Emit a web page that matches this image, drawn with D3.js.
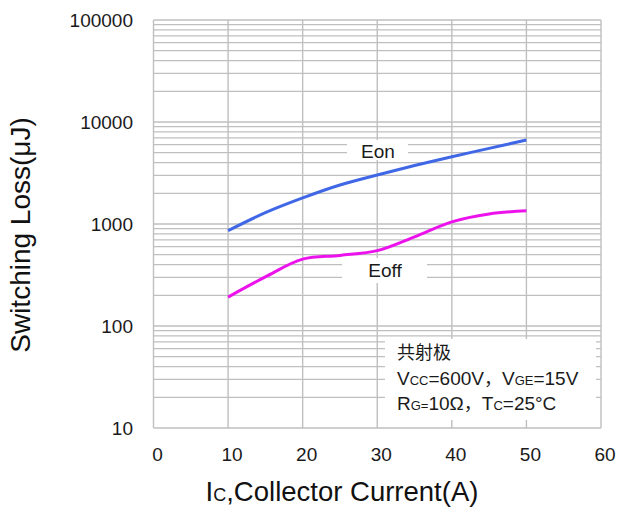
<!DOCTYPE html>
<html><head><meta charset="utf-8">
<script src="https://cdn.jsdelivr.net/npm/d3@7"></script>
<style>body{margin:0;background:#fff}</style>
</head><body>
<script>
const eonCurrent  = [10, 15, 20, 25, 30, 35, 40, 45, 50];
const eon         = [860, 1290, 1800, 2410, 3020, 3740, 4570, 5510, 6660];
const eoffCurrent = [10, 15, 20, 25, 30, 35, 40, 45, 50];
const eoff        = [192, 303, 452, 492, 548, 748, 1050, 1255, 1350];
const xTicks = [0, 10, 20, 30, 40, 50, 60];
const yTicks = [10, 100, 1000, 10000, 100000];

const W = 619, H = 508;
const svg = d3.select("body").append("svg").attr("width", W).attr("height", H);
const x = d3.scaleLinear().domain([0, 60]).range([153.5, 601]);
const y = d3.scaleLog().domain([10, 100000]).range([428, 20]);
const font = "'Liberation Sans', Arial, sans-serif";
const cjk = "'Noto Sans CJK SC', sans-serif";
const gridC = "#bfbfbf";
const txtC = "#1a1a1a";

// grid
const minor = [];
for (let d = 10; d < 100000; d *= 10) for (let k = 1; k <= 9; k++) minor.push(d * k);
minor.push(100000);
svg.append("g").selectAll("line").data(minor).join("line")
  .attr("x1", x(0)).attr("x2", x(60))
  .attr("y1", d => y(d)).attr("y2", d => y(d))
  .attr("stroke", gridC).attr("stroke-width", d => yTicks.includes(d) ? 1.6 : 1.2);
svg.append("g").selectAll("line").data(xTicks).join("line")
  .attr("x1", d => x(d)).attr("x2", d => x(d))
  .attr("y1", y(100000)).attr("y2", y(10))
  .attr("stroke", gridC).attr("stroke-width", 1.4);

// label boxes covering the grid
svg.append("rect").attr("x", 347).attr("y", 140).attr("width", 61).attr("height", 20).attr("fill", "#fff");
svg.append("rect").attr("x", 342).attr("y", 258).attr("width", 85).attr("height", 25).attr("fill", "#fff");
svg.append("rect").attr("x", 385).attr("y", 339).attr("width", 211).attr("height", 81).attr("fill", "#fff");

// curves
const mk = xs => d3.line().x((d, i) => x(xs[i])).y(d => y(d)).curve(d3.curveCatmullRom.alpha(0.5));
svg.append("path").attr("d", mk(eonCurrent)(eon)).attr("fill", "none").attr("stroke", "#3f67e6").attr("stroke-width", 3);
svg.append("path").attr("d", mk(eoffCurrent)(eoff)).attr("fill", "none").attr("stroke", "#ec12ec").attr("stroke-width", 3);

// tick labels
svg.append("g").selectAll("text").data(xTicks).join("text")
  .attr("x", d => x(d) + 4).attr("y", 461).attr("text-anchor", "middle")
  .attr("font-family", font).attr("font-size", 19).attr("fill", txtC).text(d => d);
svg.append("g").selectAll("text").data(yTicks).join("text")
  .attr("x", 133).attr("y", d => y(d) + 7).attr("text-anchor", "end")
  .attr("font-family", font).attr("font-size", 19).attr("fill", txtC).text(d => d);

// curve labels
svg.append("text").attr("x", 378).attr("y", 158).attr("text-anchor", "middle")
  .attr("font-family", font).attr("font-size", 19).attr("fill", txtC).text("Eon");
svg.append("text").attr("x", 385).attr("y", 277).attr("text-anchor", "middle")
  .attr("font-family", font).attr("font-size", 19).attr("fill", txtC).text("Eoff");

// legend text
const lg = svg.append("g").attr("font-family", font).attr("font-size", 19).attr("fill", txtC);
lg.append("text").attr("x", 397).attr("y", 359)
  .attr("font-family", cjk).attr("font-size", 18).text("共射极");
const t2 = lg.append("text").attr("x", 397).attr("y", 385);
t2.append("tspan").text("V");
t2.append("tspan").attr("font-size", 13).text("CC");
t2.append("tspan").text("=600V");
t2.append("tspan").attr("font-family", cjk).attr("font-size", 18).text("，");
t2.append("tspan").text("V");
t2.append("tspan").attr("font-size", 13).text("GE");
t2.append("tspan").text("=15V");
const t3 = lg.append("text").attr("x", 397).attr("y", 410);
t3.append("tspan").text("R");
t3.append("tspan").attr("font-size", 13).text("G=");
t3.append("tspan").text("10Ω");
t3.append("tspan").attr("font-family", cjk).attr("font-size", 18).text("，");
t3.append("tspan").text("T");
t3.append("tspan").attr("font-size", 13).text("C");
t3.append("tspan").text("=25°C");

// axis titles
const xt = svg.append("text").attr("x", 342).attr("y", 501).attr("text-anchor", "middle")
  .attr("font-family", font).attr("font-size", 27.5).attr("fill", "#111");
xt.append("tspan").text("I");
xt.append("tspan").attr("font-size", 18).text("C");
xt.append("tspan").text(",Collector Current(A)");
svg.append("text").attr("transform", "translate(30,235) rotate(-90)").attr("text-anchor", "middle")
  .attr("font-family", font).attr("font-size", 28).attr("fill", "#111").text("Switching Loss(μJ)");
</script>
</body></html>
